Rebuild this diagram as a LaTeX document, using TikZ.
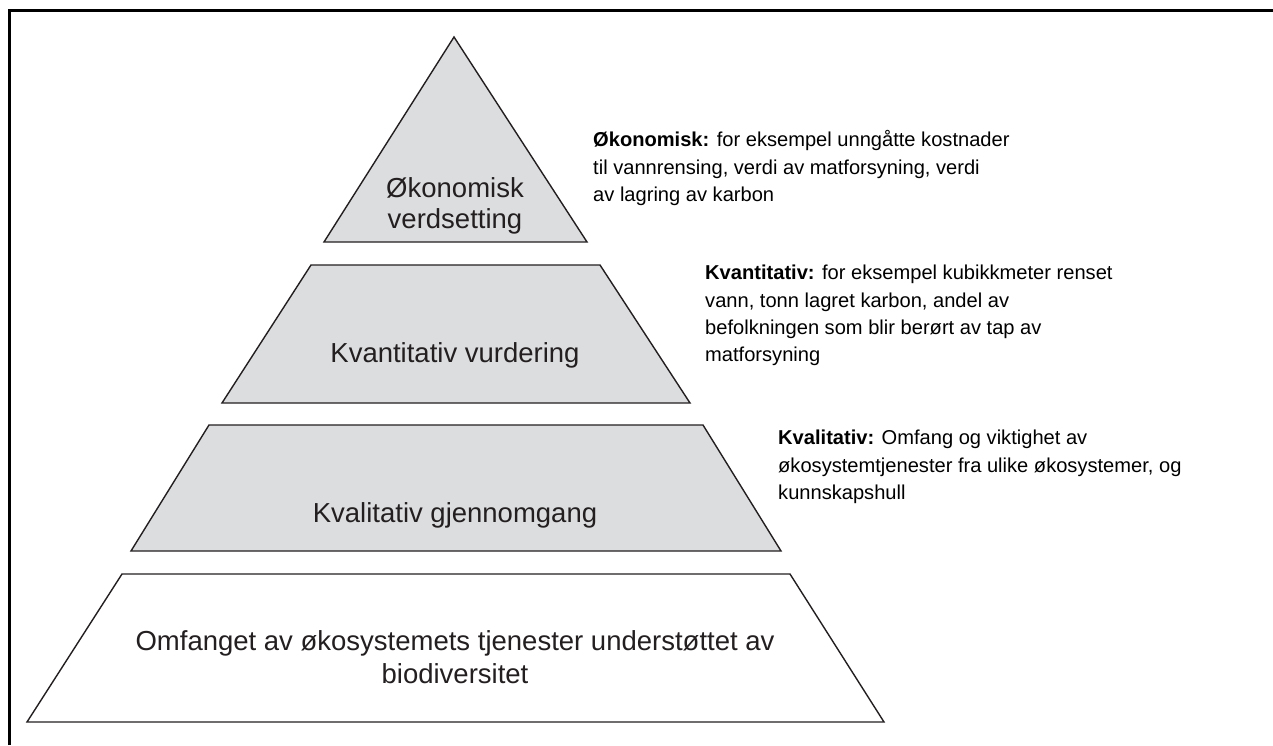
\documentclass[tikz,border=0pt]{standalone}
\usepackage{fontspec}
\setmainfont{Liberation Sans}
\definecolor{tierfill}{HTML}{DCDDDF}
\definecolor{ink}{HTML}{231F20}
\begin{document}
\begin{tikzpicture}[x=1pt,y=-1pt,
  tier/.style={draw=ink,line width=1.4pt,line join=miter},
  graytier/.style={tier,fill=tierfill},
  tierlabel/.style={inner sep=0pt,align=center,text=ink,
    font=\fontsize{27.5}{31}\selectfont},
  sidenote/.style={inner sep=0pt,align=left,anchor=north west,text=black,
    font=\fontsize{20.1}{27.3}\selectfont}]
\useasboundingbox (0,0) rectangle (1273,745);
% frame edges
\draw[line width=2.6pt] (9.7,745) -- (9.7,10.5) -- (1273,10.5);
% pyramid tiers, top to bottom
\draw[graytier] (324,242) -- (454,37) -- (587,242) -- cycle;
\draw[graytier] (222,403) -- (311,265) -- (600,265) -- (690,403) -- cycle;
\draw[graytier] (131,551) -- (209,425) -- (703,425) -- (781,551) -- cycle;
\draw[tier,fill=white] (27,722) -- (122,574) -- (790,574) -- (884,722) -- cycle;
% tier labels
\node[tierlabel] (econ) at (455,206) {Økonomisk\\verdsetting};
\node[tierlabel] (quant) at (455,355) {Kvantitativ vurdering};
\node[tierlabel] (qual) at (455,515) {Kvalitativ gjennomgang};
\node[tierlabel,font=\fontsize{27.5}{33}\selectfont] (base) at (455,657) {Omfanget av økosystemets tjenester understøttet av\\biodiversitet};
% explanations beside the tiers
\node[sidenote] (econnote) at (593,130.5) {\textbf{Økonomisk:} for eksempel unngåtte kostnader\\til vannrensing, verdi av matforsyning, verdi\\av lagring av karbon};
\node[sidenote] (quantnote) at (705,265) {\textbf{Kvantitativ:} for eksempel kubikkmeter renset\\vann, tonn lagret karbon, andel av\\befolkningen som blir berørt av tap av\\matforsyning};
\node[sidenote] (qualnote) at (778,430) {\textbf{Kvalitativ:} Omfang og viktighet av\\økosystemtjenester fra ulike økosystemer, og\\kunnskapshull};
\end{tikzpicture}
\end{document}
